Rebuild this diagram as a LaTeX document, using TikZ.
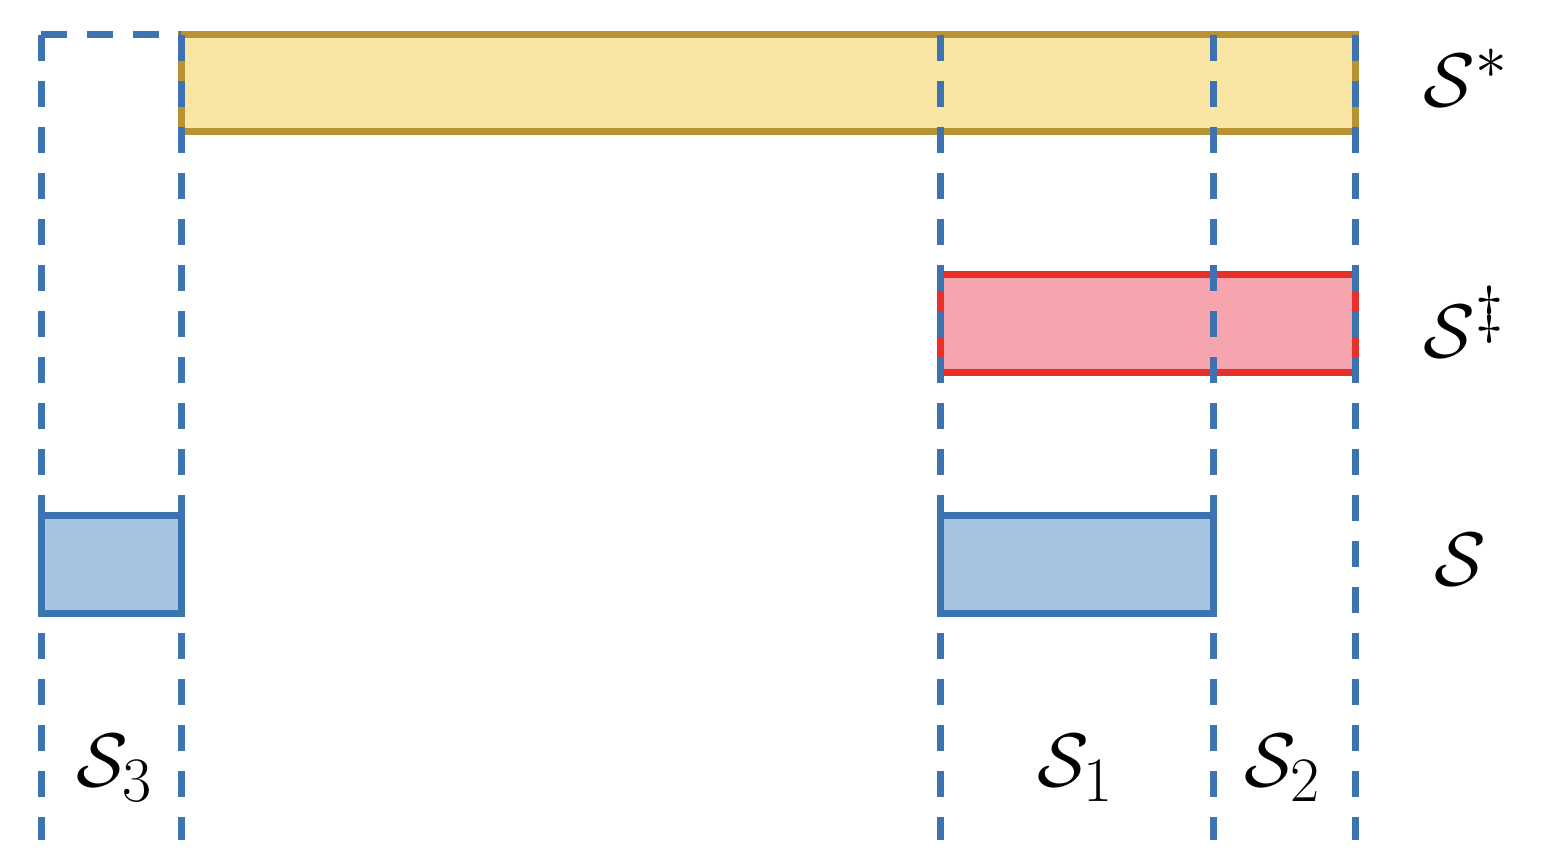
\documentclass[tikz,border=0pt]{standalone}
\usepackage{amsmath, amssymb}
\usepackage{tikz}
\usetikzlibrary{positioning}
\definecolor{SetBlue}{RGB}{61, 115, 177}
\definecolor{SetBlueFill}{RGB}{166, 195, 225}
\definecolor{StarGold}{RGB}{184, 146, 51}
\definecolor{StarFill}{RGB}{249, 229, 164}
\definecolor{DagRed}{RGB}{232, 48, 42}
\definecolor{DagFill}{RGB}{246, 165, 174}

\tikzset{
  setlabel/.style={inner sep=0pt, font=\Huge, scale=3.05},
  guide/.style={SetBlue, line width=7pt, dash pattern=on 26pt off 20pt},
}

\begin{document}
\begin{tikzpicture}[x=1pt, y=-1pt]
    \useasboundingbox (0,0) rectangle (1558,866);

    % Boxes for the sets
    \draw[StarGold, fill=StarFill, line width=7pt] (181,35) rectangle (1355,132);
    \draw[DagRed, fill=DagFill, line width=7pt] (940,275) rectangle (1355,373);
    \draw[SetBlue, fill=SetBlueFill, line width=7pt] (41,515) rectangle (181,613);
    \draw[SetBlue, fill=SetBlueFill, line width=7pt] (940,515) rectangle (1213,613);

    % Dashed guide lines
    \foreach \x in {41,181,940,1213,1355} {
      \draw[guide] (\x,35) -- (\x,840);
    }
    \draw[guide] (41,35) -- (181,35);

    % Labels
    \node[setlabel] (sstar) at (1466,78) {$\mathcal{S}^*$};
    \node[setlabel] (sdag) at (1464,322) {$\mathcal{S}^\ddagger$};
    \node[setlabel] (sall) at (1460,560) {$\mathcal{S}$};
    \node[setlabel] (sthree) at (115,768) {$\mathcal{S}_3$};
    \node[setlabel] (sone) at (1076,768) {$\mathcal{S}_1$};
    \node[setlabel] (stwo) at (1283,768) {$\mathcal{S}_2$};
  \end{tikzpicture}
\end{document}
